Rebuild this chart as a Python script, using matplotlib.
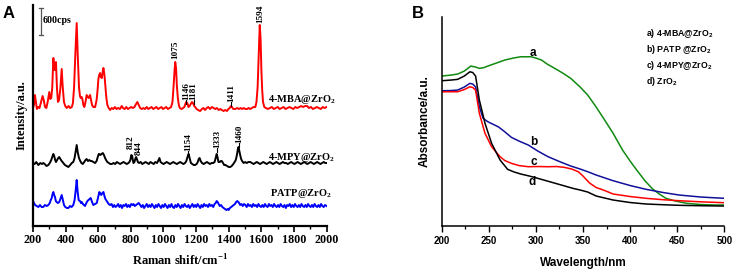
import numpy as np
import matplotlib
matplotlib.use('Agg')
import matplotlib.pyplot as plt
from matplotlib.ticker import MultipleLocator

plt.rcParams['mathtext.fontset'] = 'custom'
plt.rcParams['mathtext.bf'] = 'Liberation Serif:bold'
plt.rcParams['mathtext.rm'] = 'Liberation Serif:bold'
plt.rcParams['mathtext.sf'] = 'Liberation Sans:bold'

# ---- panel A: Raman spectra (height above each baseline, a.u.) ----
mba = [(200,0),(206,3),(212,13),(218,6),(224,-1),(232,1),(240,0),(248,5),(259,12),(266,8),(274,1),(282,0),(290,6),
       (300,16),(306,9),(312,10),(318,20),(325,50),(329,42),(333,38),(337,44),(341,46),(347,20),(353,6),(360,8),
       (368,20),(376,39),(382,22),(390,6),(398,2),(407,0),(418,2),(428,0),(438,1),(445,5),(452,21),(460,55),(468,85),
       (474,55),(482,21),(488,12),(493,10),(498,11),(503,9),(509,3),(515,1),(522,6),(529,13),(535,11),(542,10),
       (546,12),(550,13),(556,8),(562,3),(570,1),(581,1),(590,8),(596,18),(601,29),(606,33),(611,35),(616,31),
       (622,30),(627,36),(632,40),(638,33),(644,21),(650,10),(656,3),(664,0),(673,-2),(682,0),(692,-1),(702,1),
       (712,-1),(722,0),(733,-1),(744,2),(752,0),(762,-1),(772,1),(782,-1),(792,0),(802,1),(812,0),(822,1),(832,4),
       (840,6),(848,3),(857,0),(867,-1),(877,0),(887,-1),(897,1),(907,-1),(917,0),(927,1),(937,-1),(947,0),(957,1),
       (967,-1),(977,0),(987,1),(997,-1),(1007,0),(1017,1),(1027,-1),(1037,0),(1047,1),(1055,6),(1062,22),(1068,38),
       (1072,46),(1077,40),(1082,22),(1088,10),(1094,3),(1100,0),(1111,-1),(1120,0),(1128,1),(1134,4),(1139,6),
       (1146,5),(1153,1),(1160,2),(1167,4),(1174,6),(1181,5),(1188,2),(1194,1),(1203,-1),(1212,-2),(1225,-3),
       (1235,-1),(1245,0),(1255,-2),(1265,0),(1275,1),(1285,-1),(1297,1),(1307,0),(1317,-1),(1327,0),(1338,-2),
       (1348,-1),(1358,-2),(1368,-3),(1378,-2),(1389,-3),(1398,-1),(1406,0),(1413,2),(1420,1),(1428,-1),(1440,-1),
       (1452,0),(1462,-1),(1472,0),(1482,-1),(1492,0),(1502,-1),(1512,-1),(1522,0),(1532,-1),(1542,0),(1552,1),
       (1563,1),(1570,6),(1577,21),(1584,55),(1590,83),(1595,70),(1600,38),(1605,18),(1610,6),(1618,1),(1628,0),
       (1640,-1),(1652,0),(1664,1),(1676,-1),(1688,0),(1700,1),(1712,-1),(1724,0),(1736,1),(1748,-1),(1760,0),
       (1772,1),(1784,0),(1796,-1),(1808,1),(1820,0),(1832,1),(1844,2),(1856,1),(1868,2),(1880,2),(1892,0),
       (1904,1),(1916,-1),(1928,0),(1940,1),(1952,0),(1964,-1),(1976,1),(1988,0),(2000,1)]

mpy = [(200,0),(210,-1),(220,1),(233,-2),(245,0),(255,-1),(263,0),(272,-1),(283,-3),(294,-2),(303,0),(312,3),(318,6),
       (325,9),(330,7),(336,3),(341,1),(348,3),(355,5),(361,6),(368,4),(376,2),(386,0),(396,-2),(406,-3),(417,-4),
       (428,-2),(438,0),(447,1),(455,5),(462,12),(468,18),(474,11),(482,5),(490,2),(497,0),(505,-1),(514,1),(522,3),
       (529,4),(537,2),(545,3),(553,2),(560,2),(570,1),(581,0),(590,2),(597,6),(603,9),(607,9),(613,8),(620,9),
       (628,10),(635,8),(642,5),(648,3),(656,1),(665,0),(674,-1),(683,-1),(694,0),(704,-1),(714,1),(724,0),(734,-1),
       (745,0),(755,1),(765,0),(775,-1),(785,0),(791,1),(797,3),(803,8),(808,7),(812,3),(816,0),(822,1),(827,4),
       (832,6),(837,4),(843,1),(850,0),(860,1),(870,-1),(880,0),(890,1),(900,0),(910,-1),(920,1),(930,0),(940,-1),
       (950,1),(960,0),(967,2),(975,5),(982,1),(990,0),(1000,-1),(1010,0),(1020,1),(1030,0),(1040,-1),(1050,0),
       (1060,1),(1070,0),(1082,-1),(1092,0),(1102,1),(1112,0),(1122,-1),(1132,0),(1140,2),(1147,6),(1154,9),
       (1160,5),(1168,0),(1176,-1),(1185,-2),(1194,-2),(1203,-1),(1210,1),(1216,4),(1221,5),(1228,2),(1236,0),
       (1246,-1),(1256,0),(1266,1),(1276,0),(1285,-1),(1295,0),(1305,0),(1313,1),(1320,5),(1326,9),(1331,6),
       (1337,1),(1345,1),(1351,2),(1357,2),(1365,0),(1372,-2),(1380,-2),(1390,-3),(1400,-4),(1409,-4),(1418,-3),
       (1428,-1),(1436,1),(1443,3),(1450,8),(1456,14),(1460,16),(1465,12),(1470,8),(1476,4),(1482,2),(1491,0),
       (1500,1),(1510,0),(1520,1),(1532,1),(1542,0),(1552,-1),(1562,0),(1572,1),(1582,0),(1592,-1),(1602,0),
       (1612,1),(1622,0),(1632,-1),(1642,0),(1652,1),(1662,0),(1672,-1),(1682,0),(1692,1),(1702,0),(1712,-1),
       (1722,0),(1732,1),(1742,0),(1752,0),(1762,-1),(1772,0),(1782,1),(1792,0),(1802,-1),(1812,0),(1822,1),
       (1832,0),(1842,-1),(1852,0),(1862,1),(1872,0),(1882,-1),(1892,0),(1902,1),(1912,0),(1922,-1),(1932,0),
       (1942,1),(1952,0),(1962,-1),(1972,0),(1982,1),(1992,0),(2000,0)]

patp = [(200,5),(206,3),(213,1),(223,0),(233,-1),(243,1),(253,-1),(263,-1),(273,1),(284,0),(294,1),(303,3),(309,6),
        (315,8),(320,12),(325,14),(330,11),(335,9),(340,5),(345,4),(353,3),(361,4),(368,7),(376,11),(382,7),(390,1),
        (398,-1),(408,-2),(417,-2),(427,0),(437,-1),(447,1),(455,6),(462,16),(468,26),(474,14),(480,6),(488,5),
        (494,3),(499,4),(506,2),(512,1),(519,0),(527,3),(534,5),(540,6),(547,7),(554,8),(562,4),(570,1),(580,2),
        (591,3),(598,8),(603,12),(607,14),(613,12),(619,11),(625,13),(632,14),(638,10),(644,7),(648,6),(656,4),
        (664,2),(673,1),(682,2),(690,-1),(698,1),(706,-1),(714,0),(722,2),(730,-1),(738,1),(746,-2),(754,1),
        (762,0),(770,2),(778,-1),(786,1),(794,-1),(802,2),(810,1),(816,2),(824,0),(832,1),(840,2),(848,3),(857,1),
        (865,-1),(873,1),(881,-2),(889,0),(897,2),(905,-1),(913,1),(921,-1),(929,2),(937,0),(945,-2),(953,1),
        (961,-1),(969,2),(977,0),(985,-2),(993,1),(1001,-1),(1009,2),(1017,0),(1025,-2),(1033,1),(1041,-1),
        (1049,2),(1057,-1),(1065,-2),(1073,1),(1081,-1),(1089,2),(1097,0),(1105,-2),(1113,1),(1121,-1),(1129,2),
        (1137,0),(1145,-1),(1153,1),(1161,-2),(1169,0),(1177,2),(1185,-1),(1193,1),(1201,-1),(1209,2),(1217,0),
        (1225,-2),(1233,1),(1241,-1),(1249,2),(1257,0),(1265,1),(1273,-1),(1281,2),(1289,0),(1297,1),(1305,-1),
        (1313,2),(1320,3),(1326,5),(1332,4),(1338,2),(1345,0),(1353,1),(1361,-1),(1369,-2),(1377,-3),(1385,-4),
        (1393,-3),(1399,-4),(1407,-2),(1415,-1),(1423,0),(1431,1),(1438,2),(1445,4),(1452,5),(1458,4),(1464,3),
        (1470,1),(1478,2),(1486,0),(1494,2),(1502,1),(1510,-1),(1518,2),(1526,0),(1534,1),(1542,-1),(1550,2),
        (1558,0),(1566,1),(1574,-1),(1582,2),(1590,0),(1598,-1),(1606,1),(1614,-1),(1622,2),(1630,0),(1638,-1),
        (1646,2),(1654,0),(1662,1),(1670,-1),(1678,2),(1686,0),(1694,-1),(1702,1),(1710,-1),(1718,2),(1726,0),
        (1734,-1),(1742,1),(1750,-2),(1758,1),(1766,0),(1774,2),(1782,-1),(1790,1),(1798,-1),(1806,2),(1814,0),
        (1822,-1),(1830,1),(1838,-1),(1846,2),(1854,0),(1862,-1),(1870,1),(1878,-1),(1886,2),(1894,0),(1902,-1),
        (1910,1),(1918,-1),(1926,2),(1934,0),(1942,-1),(1950,1),(1958,-1),(1966,2),(1974,0),(1982,-1),(1990,1),
        (2000,0)]

offsets = {'mba': 118, 'mpy': 63, 'patp': 20}

# peak labels: (text, x, y_bottom, with_bar)
mba_peaks = [('1075', 1072, 167, False), ('1146', 1141, 126, True), ('1181', 1184, 126, True),
             ('1411', 1416, 124, True), ('1594', 1594, 203, False)]
mpy_peaks = [('812', 798, 77, False), ('844', 849, 71, False), ('1154', 1153, 75, True),
             ('1333', 1331, 78, True), ('1460', 1465, 83, True)]

# ---- panel B: UV-vis ----
wl_a = [200,210,217,224,231,236,240,245,249,258,267,276,284,295,300,306,312,320,329,337,347,355,364,373,382,392,
        400,407,416,424,431,438,448,460,475,490,500]
ab_a = [150,151,152,155,160,159,157.7,158.5,160,163,166,168,169.3,169.3,168,166,162,157.7,152.7,147.7,139,131,119,
        106,92.7,76,65,56,45,37,32,27.7,25,22.7,21.5,21,21]
wl_b = [200,210,217,224,230,233,236,240,244,249,254,260,266,274,282,292,302,313,325,337,347,355,364,382,400,417,
        435,452,475,500]
ab_b = [135.3,135.5,136,139,142.7,142,139,119.3,107.7,104.3,102,99.3,95,88.7,85,81,75,69.3,64.5,60,57,54.3,51,45.3,
        40.5,36.7,33.5,31,29,27.7]
wl_c = [200,210,217,224,230,233,236,240,246,253,262,267,274,282,292,302,313,322,330,338,345,350,357,364,373,382,
        400,417,435,452,475,500]
ab_c = [134.3,134.3,134.3,136.5,139.3,138.5,136,112.7,92.7,79.3,69.3,65.5,62.7,60.5,59.3,59.5,59.3,59.5,58.7,57,
        54.3,50,43,38.5,35.5,32,29.5,27.7,26.3,25.3,24.2,23.3]
wl_d = [200,210,217,224,230,233,236,240,246,253,262,270,277,284,293,302,314,327,340,347,355,364,373,382,400,417,
        435,452,475,500]
ab_d = [145.3,146,146.7,150,154.3,153.5,150,126,102.7,82.7,66,56.7,54,52,50,47.7,44.5,41,37.5,36,34,30,28,26,23.5,
        22,21.3,20.7,20.3,20]

serif = 'Liberation Serif'
sans = 'Liberation Sans'

fig = plt.figure(figsize=(7.36, 2.71), dpi=100)

# ================= A =================
ax = fig.add_axes([0.0448, 0.166, 0.399, 0.8155])
for name, data, col in [('mba', mba, '#ff0000'), ('mpy', mpy, '#000000'), ('patp', patp, '#0000ff')]:
    d = np.array(data, dtype=float)
    ax.plot(d[:, 0], d[:, 1] + offsets[name], color=col, lw=1.4)

for txt, x, yb, bar in mba_peaks + mpy_peaks:
    ax.text(x, yb, txt, rotation=90, ha='center', va='bottom', fontsize=6.6,
            family=serif, fontweight='bold', clip_on=False)
    if bar:
        ax.plot([x, x], [yb - 4, yb], color='k', lw=0.8)

ax.text(1643, 127, r'4-MBA@ZrO$_\mathbf{2}$', fontsize=7.5, family=serif, fontweight='bold', va='center')
ax.text(1643, 69, r'4-MPY@ZrO$_\mathbf{2}$', fontsize=7.5, family=serif, fontweight='bold', va='center')
ax.text(1653, 33, r'PATP@ZrO$_\mathbf{2}$', fontsize=7.5, family=serif, fontweight='bold', va='center')

# 600 cps scale bar
ax.plot([249, 249], [191, 218], color='#555555', lw=0.9, clip_on=False)
ax.plot([234, 264], [191, 191], color='#555555', lw=0.9, clip_on=False)
ax.plot([234, 264], [218, 218], color='#555555', lw=0.9, clip_on=False)
ax.text(262, 206, '600cps', fontsize=7.2, family=serif, fontweight='bold', va='center')

ax.set_xlim(200, 2000)
ax.set_ylim(0, 221)
ax.xaxis.set_major_locator(MultipleLocator(200))
ax.xaxis.set_minor_locator(MultipleLocator(100))
ax.set_yticks([])
for s in ['top', 'right']:
    ax.spines[s].set_visible(False)
for s in ['left', 'bottom']:
    ax.spines[s].set_linewidth(1.6)
ax.tick_params(axis='x', which='major', direction='out', length=4, width=1.2, pad=2)
ax.tick_params(axis='x', which='minor', direction='out', length=2, width=1.0)
for lab in ax.get_xticklabels():
    lab.set_family(serif)
    lab.set_fontweight('bold')
    lab.set_fontsize(8.7)
ax.set_xlabel(r'Raman shift/cm$^{\mathbf{-1}}$', family=serif, fontweight='bold', fontsize=9, labelpad=5)
ax.set_ylabel('Intensity/a.u.', family=serif, fontweight='bold', fontsize=9, labelpad=4)
fig.text(9 / 736, 1 - 14 / 271, 'A', family=sans, fontweight='bold', fontsize=12, ha='center', va='center')

# ================= B =================
bx = fig.add_axes([0.6001, 0.166, 0.384, 0.771])
bx.plot(wl_a, ab_a, color='#108a10', lw=1.1)
bx.plot(wl_b, ab_b, color='#10109a', lw=1.1)
bx.plot(wl_c, ab_c, color='#ff0000', lw=1.1)
bx.plot(wl_d, ab_d, color='#000000', lw=1.1)

for t, x, y in [('a', 297, 173), ('b', 297.5, 84), ('c', 297.5, 64), ('d', 296, 44)]:
    bx.text(x, y, t, family=sans, fontweight='bold', fontsize=8.5, ha='center', va='center')

legend_txt = [r'a) 4-MBA@ZrO$_\mathsf{2}$', r'b) PATP @ZrO$_\mathsf{2}$',
              r'c) 4-MPY@ZrO$_\mathsf{2}$', r'd) ZrO$_\mathsf{2}$']
for i, t in enumerate(legend_txt):
    fig.text(646 / 736, 1 - (33 + 16.3 * i) / 271, t, family=sans, fontweight='bold', fontsize=6.3, va='center')

bx.set_xlim(200, 500)
bx.set_ylim(0, 209)
bx.xaxis.set_major_locator(MultipleLocator(50))
bx.xaxis.set_minor_locator(MultipleLocator(25))
bx.set_yticks([])
for s in ['top', 'right']:
    bx.spines[s].set_visible(False)
for s in ['left', 'bottom']:
    bx.spines[s].set_linewidth(1.1)
bx.tick_params(axis='x', which='major', direction='out', length=4, width=1.0, pad=3)
bx.tick_params(axis='x', which='minor', direction='out', length=2, width=0.9)
for lab in bx.get_xticklabels():
    lab.set_family(sans)
    lab.set_fontweight('bold')
    lab.set_fontsize(7)
bx.set_xlabel('Wavelength/nm', family=sans, fontweight='bold', fontsize=8.5, labelpad=8)
bx.set_ylabel('Absorbance/a.u.', family=sans, fontweight='bold', fontsize=8.5, labelpad=8)
fig.text(418 / 736, 1 - 14 / 271, 'B', family=sans, fontweight='bold', fontsize=12, ha='center', va='center')

fig.savefig('out.png', dpi=100)
